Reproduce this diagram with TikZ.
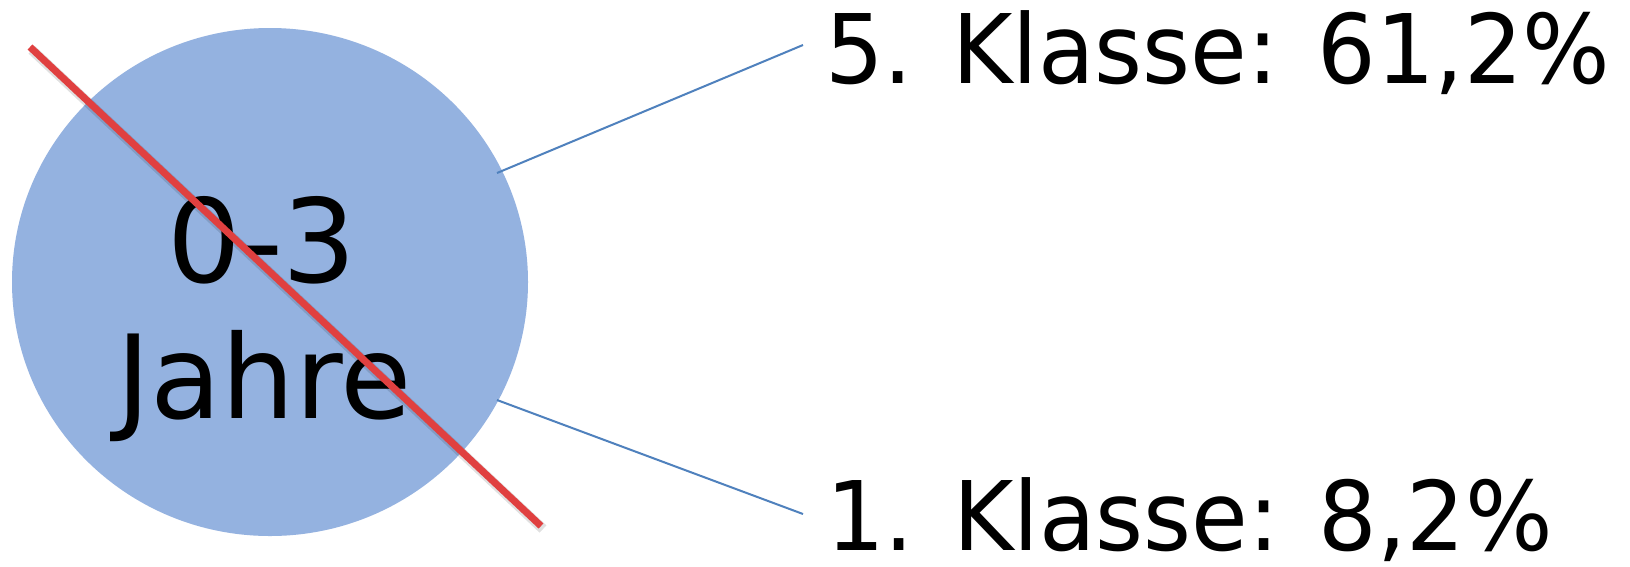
\documentclass[tikz,border=0pt]{standalone}
\usepackage{fontspec}
\usepackage{graphicx}
\setmainfont{DejaVu Sans}
\usetikzlibrary{shapes.geometric}
\definecolor{ellfill}{RGB}{148,178,224}
\definecolor{conn}{RGB}{79,129,189}
\definecolor{strike}{RGB}{224,64,64}
\newcommand{\narrowtext}[1]{\scalebox{0.96}[1]{#1}}
\begin{document}
\begin{tikzpicture}[x=1pt,y=-1pt,
  bigtext/.style={inner sep=0pt,font=\fontsize{116}{136}\selectfont},
  labeltext/.style={inner sep=0pt,anchor=base west,font=\fontsize{96}{110}\selectfont},
  connline/.style={draw=conn,line width=2pt},
  strikeline/.style={draw=strike,line width=7pt}]
\useasboundingbox (0,0) rectangle (1630,566);
\fill[white] (0,0) rectangle (1630,566);
\node[ellipse,fill=ellfill,minimum width=516pt,minimum height=508pt,inner sep=0pt] (ell) at (270,282) {};
\coordinate (s1) at (497,173);
\coordinate (s2) at (497,400);
\node[labeltext] (k5) at (825,83) {\narrowtext{5. Klasse: 61,2\%}};
\node[labeltext] (k1) at (826,550) {\narrowtext{1. Klasse: 8,2\%}};
\coordinate (e1) at (803,45);
\coordinate (e2) at (803,514);
\draw[connline] (s1) -- (e1);
\draw[connline] (s2) -- (e2);
\node[bigtext,anchor=base] (age) at (262,282) {0-3};
\node[bigtext,anchor=base] (jahre) at (264,418) {Jahre};
\coordinate (r1) at (30,47);
\coordinate (r2) at (541,526);
\draw[draw=black,opacity=0.12,line width=10pt] ([shift={(2,3)}]r1) -- ([shift={(2,3)}]r2);
\draw[strikeline] (r1) -- (r2);
\end{tikzpicture}
\end{document}
